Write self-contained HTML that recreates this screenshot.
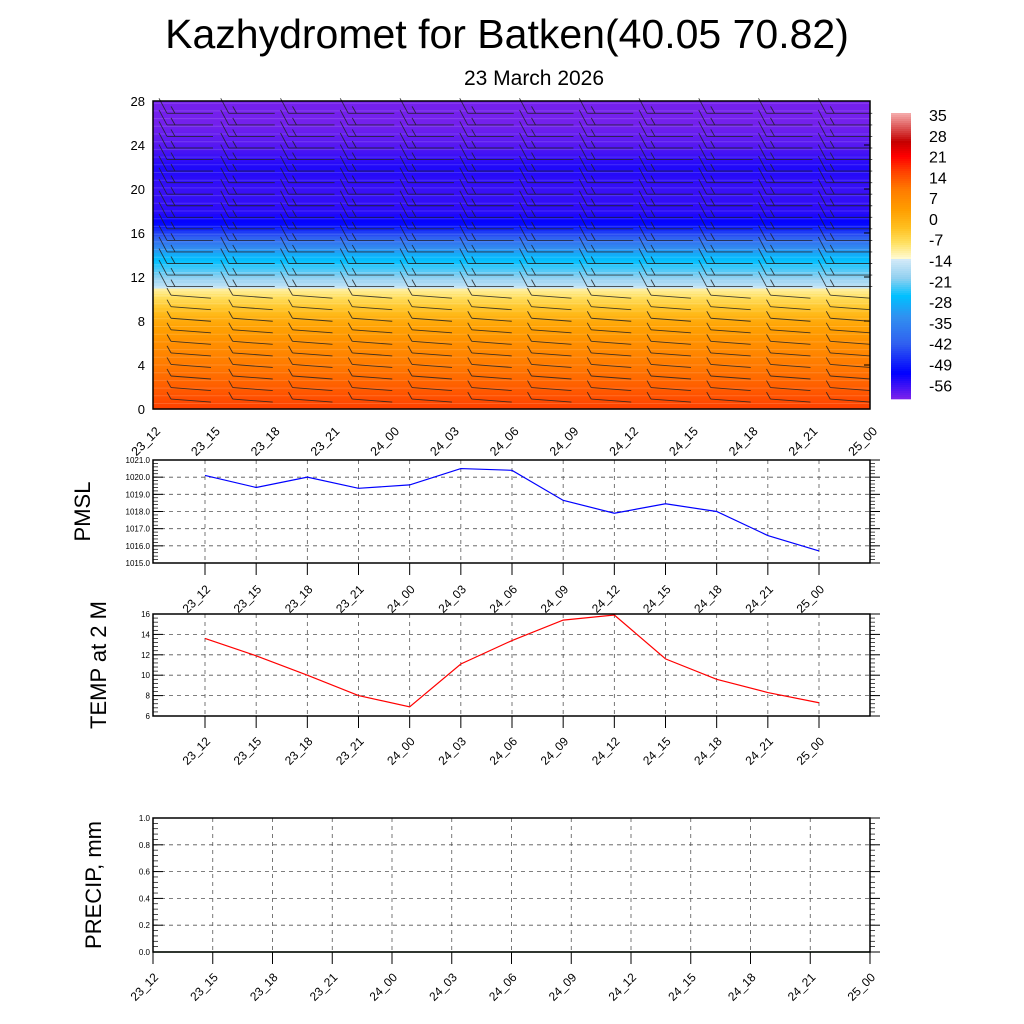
<!DOCTYPE html>
<html><head><meta charset="utf-8"><style>
body{margin:0;background:#fff;}
svg{display:block;font-family:"Liberation Sans",sans-serif;}
</style></head><body>
<svg id="s" width="1024" height="1024" viewBox="0 0 1024 1024" xmlns="http://www.w3.org/2000/svg">
<text x="507" y="48" font-size="41" text-anchor="middle">Kazhydromet for Batken(40.05 70.82)</text>
<text x="534" y="85" font-size="21" text-anchor="middle">23 March 2026</text>
</svg>
<script>
const timeLabels=["23_12","23_15","23_18","23_21","24_00","24_03","24_06","24_09","24_12","24_15","24_18","24_21","25_00"];
const pmsl=[1020.1,1019.4,1020.0,1019.35,1019.55,1020.5,1020.4,1018.65,1017.9,1018.45,1018.0,1016.6,1015.7];
const temp2m=[13.6,11.9,10.0,8.0,6.9,11.1,13.4,15.4,15.9,11.6,9.6,8.3,7.3];
const precip=[0,0,0,0,0,0,0,0,0,0,0,0,0];
const profileHeights=[0,2,4,6,8,10,10.9,11.1,12,14,16,17,18,20,22,24,26,28];
const profileTemps=[16,13,10,6,1,-7,-11,-15,-20,-28,-45,-52,-55,-56,-54,-58,-60,-60];
const cbLabels=[35,28,21,14,7,0,-7,-14,-21,-28,-35,-42,-49,-56];
const cmapVals=[36,30,26,21,16,10,3,-3,-8,-13.4,-13.6,-20,-26,-33,-42,-52,-61];
const cmapCols=["#f8b4b4","#d84848","#c40000","#ff0000","#ff4000","#ff7a00","#ff9e00","#ffc020","#ffe060","#fffbd4","#d4eaf8","#90d0f0","#00c0ff","#3090f0","#3060f0","#0000ff","#8224ea"];

const S=document.getElementById('s');
const NS="http://www.w3.org/2000/svg";
function mk(tag,at,parent){const e=document.createElementNS(NS,tag);for(const k in at)e.setAttribute(k,at[k]);(parent||S).appendChild(e);return e;}
function hex(c){return [1,3,5].map(i=>parseInt(c.substr(i,2),16));}
function cmap(v){
  if(v>=cmapVals[0])return cmapCols[0];
  for(let i=0;i<cmapVals.length-1;i++){
    if(v<=cmapVals[i]&&v>=cmapVals[i+1]){
      const t=(cmapVals[i]-v)/(cmapVals[i]-cmapVals[i+1]);
      const a=hex(cmapCols[i]),b=hex(cmapCols[i+1]);
      return "rgb("+a.map((x,j)=>Math.round(x+(b[j]-x)*t)).join(",")+")";
    }
  }
  return cmapCols[cmapCols.length-1];
}
function interpT(h){
  for(let i=0;i<profileHeights.length-1;i++){
    if(h>=profileHeights[i]&&h<=profileHeights[i+1]){
      const t=(h-profileHeights[i])/(profileHeights[i+1]-profileHeights[i]);
      return profileTemps[i]+(profileTemps[i+1]-profileTemps[i])*t;}
  }
  return profileTemps[profileTemps.length-1];
}

const L=153,R=870,T=101,B=409;
const xT=i=>L+i*(R-L)/12;
const yH=h=>B-h*(B-T)/28;
const topPanel=mk('g',{});


for(let h=0;h<28;h+=0.25){
  const r=mk('rect',{x:L,y:yH(h+0.25),width:R-L,height:(B-T)/112+0.6,fill:cmap(interpT(h+0.125))},topPanel);
  
  
}
for(let h=0.5;h<28;h+=0.7){
  mk('line',{x1:L,x2:R,y1:yH(h),y2:yH(h),stroke:'#fff',"stroke-opacity":0.15,"stroke-width":1},topPanel);
}
for(let i=0;i<12;i++){
  for(let h=0.9;h<28;h+=1.05){
    const x=(i===0?L:xT(i))+(i===0?0:2), y=yH(h);
    const g=mk('g',{stroke:'#222',"stroke-width":0.9,"stroke-opacity":0.85,fill:'none'},topPanel);
    
    
    if(h<11){
      mk('line',{x1:x+18,y1:y,x2:x+58,y2:y+3},g);
      mk('line',{x1:x+18,y1:y,x2:x+14,y2:y-7},g);
    } else {
      mk('line',{x1:x+6,y1:y-12,x2:x+14,y2:y+3},g);
      mk('line',{x1:x+14,y1:y+3,x2:x+60,y2:y+3},g);
      mk('line',{x1:x+18,y1:y-4,x2:x+22,y2:y+3},g);
    }
  }
}
mk('rect',{x:L,y:T,width:R-L,height:B-T,fill:'none',stroke:'#000',"stroke-width":1.5},topPanel);
[0,4,8,12,16,20,24,28].forEach(v=>{
  const t=mk('text',{x:L-8,y:yH(v)+5,"font-size":13,"text-anchor":"end"},topPanel);t.textContent=v;
  
  
  mk('line',{x1:R,x2:R-6,y1:yH(v),y2:yH(v),stroke:'#000'},topPanel);
});
timeLabels.forEach((s,i)=>{
  const x=xT(i),y=432;
  const t=mk('text',{x:x+8,y:y,"font-size":12.5,"text-anchor":"end",transform:`rotate(-45 ${x+8} ${y})`},topPanel);t.textContent=s;
  
  
});
const cbT=113,cbB=398,cbY=v=>115+(35-v)*2.97;
const cb=mk('g',{});


for(let y=cbT;y<cbB;y+=2){
  const v=35-(y+1-115)/2.97;
  mk('rect',{x:891,y:y,width:20,height:2.3,fill:cmap(v)},cb);
}
cbLabels.forEach(v=>{
  const t=mk('text',{x:929,y:cbY(v)+6,"font-size":16},cb);t.textContent=v;
  
  
});

function linePanel(name,yT,yB,vmin,vmax,ticks,fmt,data,color,title,titleX,labY,xs,fs){
  const g=mk('g',{});
  
  
  const yv=v=>yB-(v-vmin)/(vmax-vmin)*(yB-yT);
  ticks.forEach(v=>{
    const y=yv(v);
    mk('line',{x1:L,x2:R,y1:y,y2:y,stroke:'#555',"stroke-dasharray":"4 4","stroke-width":0.8},g);
    mk('line',{x1:L,x2:L+10,y1:y,y2:y,stroke:'#000'},g);mk('line',{x1:R,x2:R+10,y1:y,y2:y,stroke:'#000'},g);
    const t=mk('text',{x:L-3,y:y+3,"font-size":fs,"text-anchor":"end"},g);t.textContent=fmt(v);
    
    
  });
  const step=(ticks[1]-ticks[0])/5;
  for(let v=vmin;v<=vmax+1e-9;v+=step){const y=yv(v);
    mk('line',{x1:L,x2:L+5,y1:y,y2:y,stroke:'#000',"stroke-width":0.7},g);
    mk('line',{x1:R,x2:R+5,y1:y,y2:y,stroke:'#000',"stroke-width":0.7},g);}
  xs.forEach((x,i)=>{
    if(x>L+1&&x<R-1)mk('line',{x1:x,x2:x,y1:yT,y2:yB,stroke:'#555',"stroke-dasharray":"4 4","stroke-width":0.8},g);
    mk('line',{x1:x,x2:x,y1:yB,y2:yB+12,stroke:'#000'},g);
    const ly=labY;
    const t=mk('text',{x:x+6,y:ly,"font-size":12,"text-anchor":"end",transform:`rotate(-45 ${x+6} ${ly})`},g);t.textContent=timeLabels[i];
    
    
  });
  const pts=data.map((v,i)=>xs[i]+","+yv(v)).join(" ");
  const pl=mk('polyline',{points:pts,fill:'none',stroke:color,"stroke-width":1.2},g);
  
  
  mk('rect',{x:L,y:yT,width:R-L,height:yB-yT,fill:'none',stroke:'#000',"stroke-width":1.5},g);
  const cy=(yT+yB)/2;
  const tt=mk('text',{x:titleX,y:cy,"font-size":22,"text-anchor":"middle",transform:`rotate(-90 ${titleX} ${cy})`},g);tt.textContent=title;
  
  
}
const xsPts=timeLabels.map((_,i)=>205+i*(819-205)/12);
linePanel('pmsl-panel',460,563,1015,1021,[1015,1016,1017,1018,1019,1020,1021],v=>v.toFixed(1),pmsl,'#0000ff','PMSL',90,590,xsPts,8);
linePanel('temp-panel',614,716,6,16,[6,8,10,12,14,16],v=>v,temp2m,'#ff0000','TEMP at 2 M',106,742,xsPts,8);
linePanel('precip-panel',818,952,0,1,[0,0.2,0.4,0.6,0.8,1.0],v=>v.toFixed(1),precip,'#006400','PRECIP, mm',101,978,timeLabels.map((_,i)=>xT(i)),8);
</script>
</body></html>
